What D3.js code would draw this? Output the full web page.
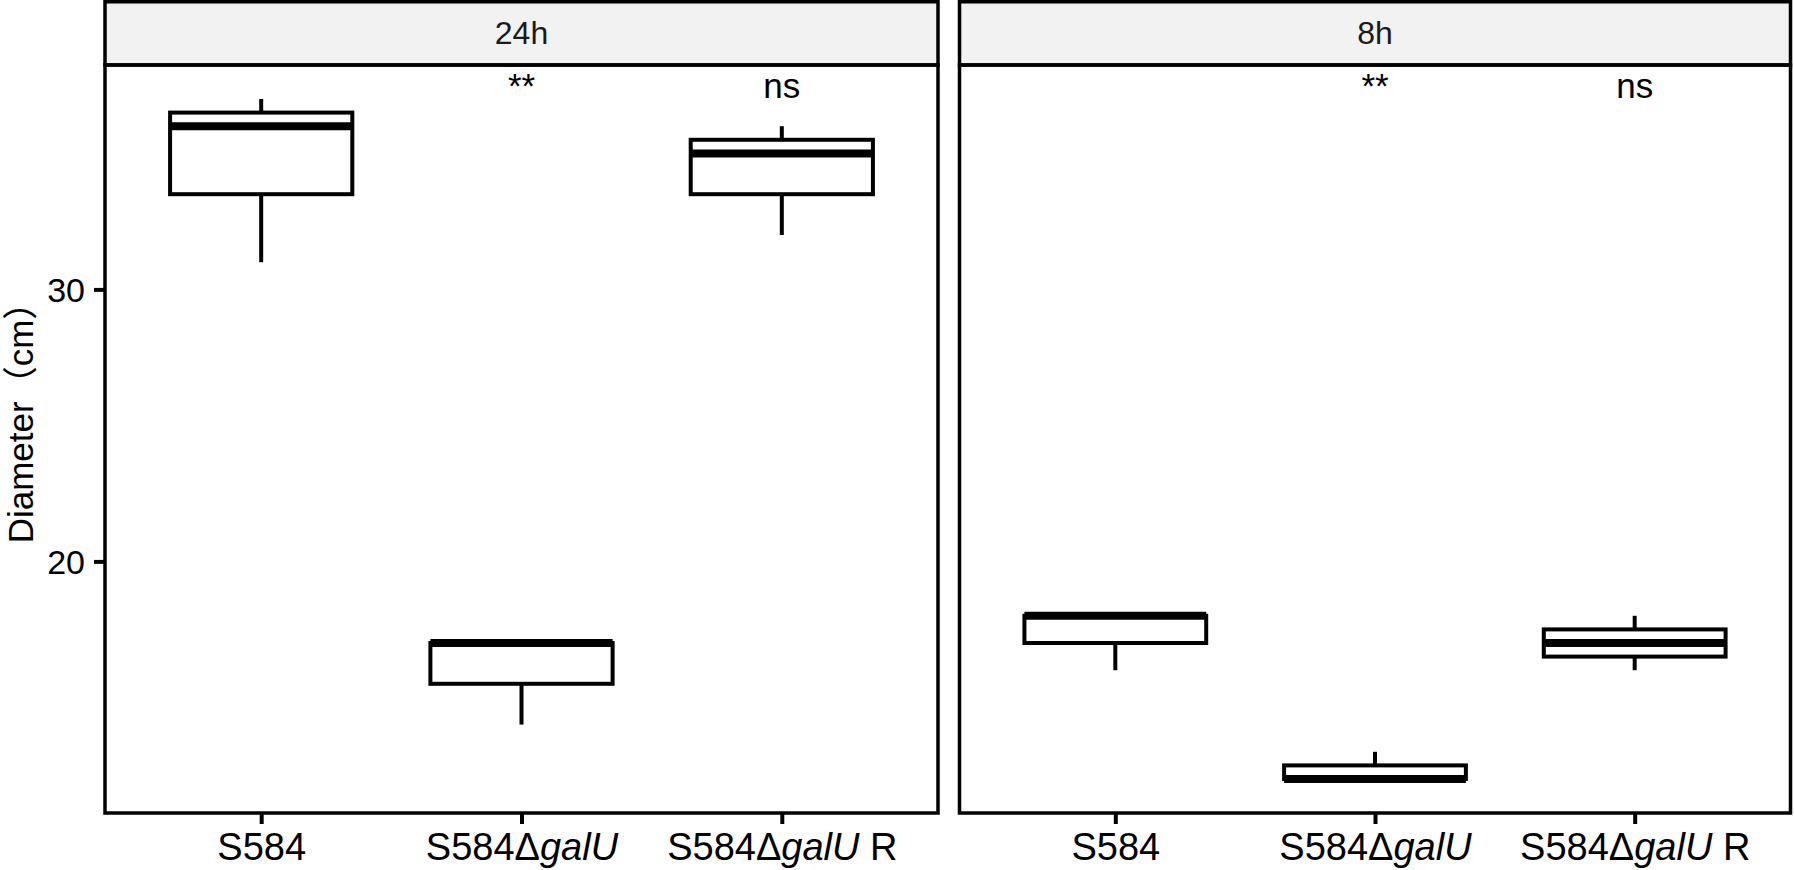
<!DOCTYPE html>
<html>
<head>
<meta charset="utf-8">
<script src="https://cdn.jsdelivr.net/npm/d3@7"></script>
<style>
  html, body { margin: 0; padding: 0; background: #ffffff; }
  svg { display: block; font-family: "Liberation Sans", Arial, "Noto Sans CJK SC", sans-serif; }
</style>
</head>
<body>
<svg id="chart" width="1794" height="870"></svg>
<script>
// ---- data ----
const facets = ["24h", "8h"];
const categories = ["S584", "S584ΔgalU", "S584ΔgalU R"];
const labelParts = [["S584", "", ""], ["S584Δ", "galU", ""], ["S584Δ", "galU", " R"]];
// 24h box statistics (per category)
const min24 = [31, 14, 32];
const q1_24 = [33.5, 15.5, 33.5];
const med24 = [36, 17, 35];
const q3_24 = [36.5, 17, 35.5];
const max24 = [37, 17, 36];
// 8h box statistics (per category)
const min8 = [16, 12, 16];
const q1_8 = [17, 12, 16.5];
const med8 = [18, 12, 17];
const q3_8 = [18, 12.5, 17.5];
const max8 = [18, 13, 18];
// significance labels (per category)
const signif = ["", "**", "ns"];
const yTicks = [20, 30];
const yDomain = [10.75, 38.25];
const yTitle = "Diameter（cm）";

// ---- layout ----
const svg = d3.select("#chart");
const panelTop = 65, panelBottom = 813, stripTop = 1.75;
const panels = [
  { name: facets[0], x0: 105, x1: 938, stats: [min24, q1_24, med24, q3_24, max24] },
  { name: facets[1], x0: 959.5, x1: 1790.5, stats: [min8, q1_8, med8, q3_8, max8] }
];
const y = d3.scaleLinear().domain(yDomain).range([panelBottom, panelTop]);
const lw = 4, pw = 3.5;

panels.forEach((p, pi) => {
  const x = d3.scalePoint().domain(categories).range([p.x0, p.x1]).padding(0.6);
  const step = x.step();
  const bw = step * 0.7;
  const g = svg.append("g");

  // strip
  g.append("rect").attr("x", p.x0).attr("y", stripTop)
    .attr("width", p.x1 - p.x0).attr("height", panelTop - stripTop)
    .attr("fill", "#F2F2F2").attr("stroke", "#000").attr("stroke-width", pw);
  g.append("text").attr("x", (p.x0 + p.x1) / 2).attr("y", 43.5)
    .attr("text-anchor", "middle").attr("font-size", 32).attr("fill", "#1A1A1A")
    .text(p.name);

  // boxes
  const [mn, q1, md, q3, mx] = p.stats;
  categories.forEach((c, i) => {
    const cx = x(c);
    g.append("line").attr("x1", cx).attr("x2", cx).attr("y1", y(q3[i])).attr("y2", y(mx[i]))
      .attr("stroke", "#000").attr("stroke-width", lw);
    g.append("line").attr("x1", cx).attr("x2", cx).attr("y1", y(q1[i])).attr("y2", y(mn[i]))
      .attr("stroke", "#000").attr("stroke-width", lw);
    g.append("rect").attr("x", cx - bw / 2).attr("y", y(q3[i]))
      .attr("width", bw).attr("height", y(q1[i]) - y(q3[i]))
      .attr("fill", "#fff").attr("stroke", "#000").attr("stroke-width", lw);
    g.append("line").attr("x1", cx - bw / 2).attr("x2", cx + bw / 2)
      .attr("y1", y(md[i])).attr("y2", y(md[i]))
      .attr("stroke", "#000").attr("stroke-width", 8);
    if (signif[i]) {
      g.append("text").attr("x", cx).attr("y", y(37.55)).attr("dy", "0.4em")
        .attr("text-anchor", "middle").attr("font-size", 35).attr("fill", "#000")
        .text(signif[i]);
    }
  });

  // panel border
  g.append("rect").attr("x", p.x0).attr("y", panelTop)
    .attr("width", p.x1 - p.x0).attr("height", panelBottom - panelTop)
    .attr("fill", "none").attr("stroke", "#000").attr("stroke-width", pw);

  // x axis
  const xa = g.append("g").attr("transform", `translate(0,${panelBottom})`)
    .call(d3.axisBottom(x).tickSize(11).tickPadding(8).tickFormat(""));
  xa.select(".domain").remove();
  xa.selectAll(".tick line").attr("stroke", "#000").attr("stroke-width", lw);
  xa.selectAll(".tick").each(function(d, i) {
    const t = d3.select(this).append("text").attr("y", 47).attr("text-anchor", "middle")
      .attr("font-size", 38).attr("fill", "#000");
    const parts = labelParts[i];
    t.append("tspan").text(parts[0]);
    if (parts[1]) t.append("tspan").attr("font-style", "italic").text(parts[1]);
    if (parts[2]) t.append("tspan").text(parts[2]);
  });

  // y axis (left panel only)
  if (pi === 0) {
    const ya = g.append("g").attr("transform", `translate(${p.x0},0)`)
      .call(d3.axisLeft(y).tickValues(yTicks).tickSize(11).tickPadding(9).tickFormat(d3.format("d")));
    ya.select(".domain").remove();
    ya.selectAll(".tick line").attr("stroke", "#000").attr("stroke-width", lw);
    ya.selectAll(".tick text").attr("font-size", 34).attr("fill", "#000")
      .attr("font-family", "Liberation Sans, Arial, sans-serif").attr("dy", "0.36em");
  }
});

// y title
svg.append("text")
  .attr("transform", `translate(33,${(panelTop + panelBottom) / 2 - 25}) rotate(-90)`)
  .attr("text-anchor", "middle").attr("font-size", 35).attr("fill", "#000")
  .text(yTitle);
</script>
</body>
</html>
